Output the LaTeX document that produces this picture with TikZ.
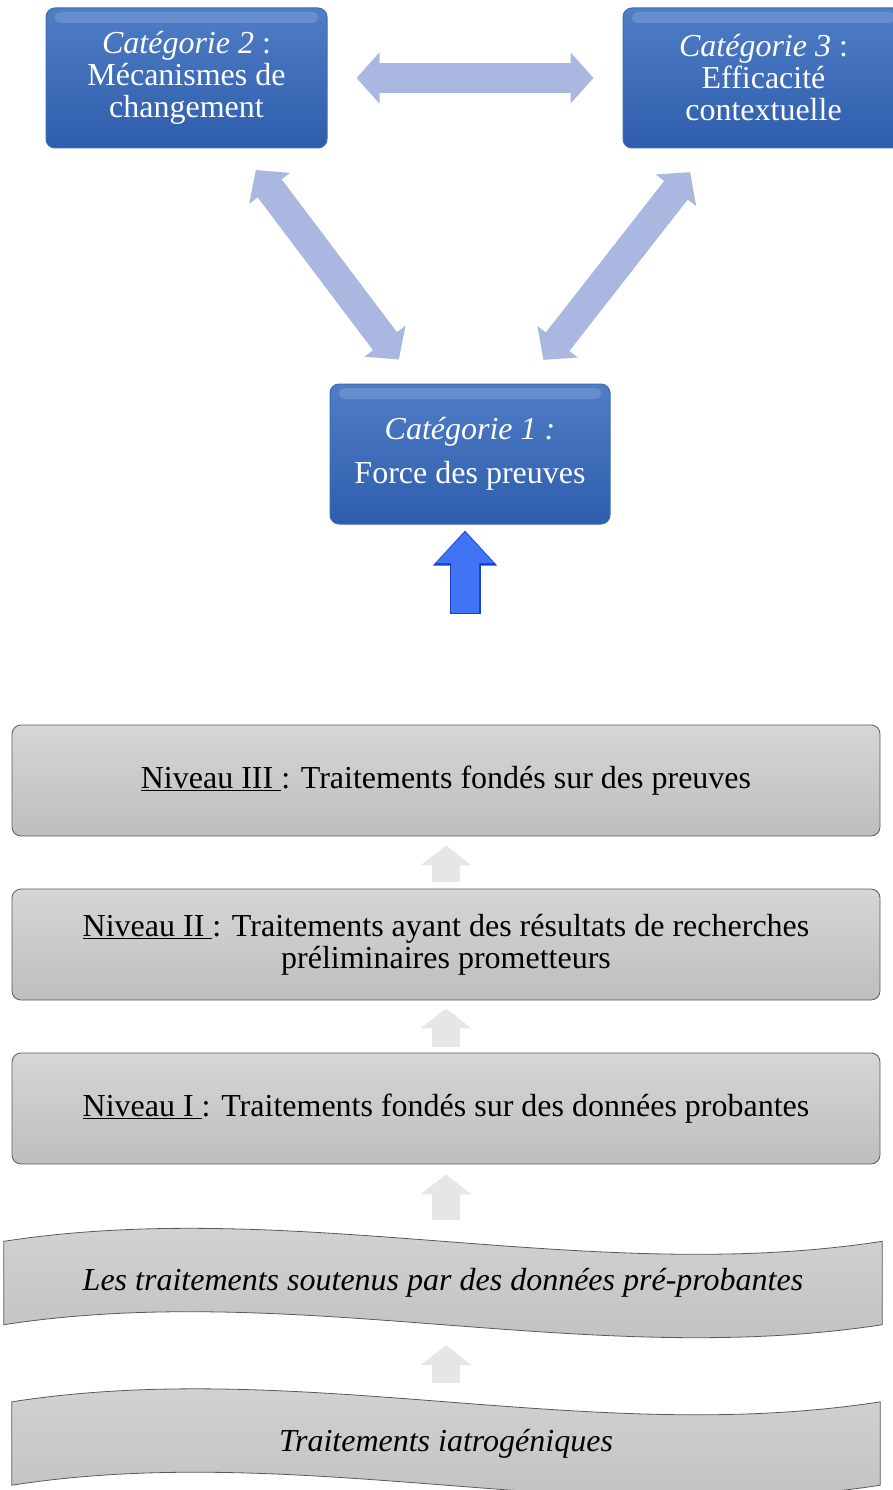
\documentclass[tikz,border=0pt]{standalone}
\usepackage{fontspec}
\setmainfont{Liberation Serif}
\usepackage{tikz}
\usetikzlibrary{arrows.meta,calc,backgrounds}
\usepackage{xcolor}

\definecolor{catTop}{HTML}{4F7DC6}
\definecolor{catBot}{HTML}{2E5DAC}
\definecolor{catEdge}{HTML}{3F6BB8}
\definecolor{linkFill}{HTML}{A9B7E1}
\definecolor{upFill}{HTML}{4173F5}
\definecolor{upEdge}{HTML}{1B3FD2}
\definecolor{levTop}{HTML}{D6D6D6}
\definecolor{levBot}{HTML}{BEBEBE}
\definecolor{levEdge}{HTML}{5A5A5A}
\definecolor{riseFill}{HTML}{E6E6E6}

\newcommand{\bigfont}{\fontsize{32}{32}\selectfont}
% Wave outline round a node: top and bottom edges are S-curves.
\newcommand{\wavepath}[1]{(#1.north west)
  .. controls ($(#1.north west)!1/3!(#1.north east)+(0,-45)$) and ($(#1.north west)!2/3!(#1.north east)+(0,45)$) .. (#1.north east)
  -- (#1.south east)
  .. controls ($(#1.south west)!2/3!(#1.south east)+(0,45)$) and ($(#1.south west)!1/3!(#1.south east)+(0,-45)$) .. (#1.south west)
  -- cycle}

\tikzset{
  catbox/.style={rounded corners=9pt,top color=catTop,bottom color=catBot,draw=catEdge,line width=1pt,
    text=white,align=center,minimum width=281pt,minimum height=140pt,font=\bigfont,
    path picture={\fill[white,opacity=.14,rounded corners=5pt]
      ($(path picture bounding box.north west)+(9pt,-4pt)$) rectangle ($(path picture bounding box.north east)+(-9pt,-15pt)$);}},
  levbox/.style={rounded corners=9pt,top color=levTop,bottom color=levBot,draw=levEdge,line width=.8pt,
    align=center,minimum width=868pt,minimum height=111pt,font=\bigfont},
  wavebox/.style={align=center,minimum height=83pt,font=\bigfont\itshape},
  wavefill/.style={top color=levTop,bottom color=levBot,draw=levEdge,line width=.8pt},
  linkarrow/.style={line width=30pt,draw=linkFill,{Triangle[width=50pt,length=23pt]}-{Triangle[width=50pt,length=23pt]}},
  upborder/.style={line width=31pt,draw=upEdge,-{Triangle[width=62pt,length=35pt]}},
  upbody/.style={line width=28pt,draw=upFill,-{Triangle[width=56pt,length=31pt]}},
  risearrow/.style={line width=28pt,draw=riseFill,-{Triangle[width=50pt,length=20pt]}}
}

\begin{document}
\begin{tikzpicture}[x=1pt,y=-1pt]
  \useasboundingbox (0,0) rectangle (893,1490);

  % The three categories.
  \node[catbox] (cat2) at (186.5,78) {\textit{Catégorie 2} :\\Mécanismes de\\changement};
  \node[catbox] (cat3) at (763.5,78) {\textit{Catégorie 3} :\\Efficacité\\contextuelle};
  \node[catbox,minimum width=280pt] (cat1) at (470,454) {\textit{Catégorie 1 :}\\[12pt]Force des preuves};

  % Links between the categories.
  \draw[linkarrow,shorten <=29pt,shorten >=29pt] (cat2) -- (cat3);
  \draw[linkarrow,shorten <=27pt,shorten >=30pt] (cat2) -- (cat1);
  \draw[linkarrow,shorten <=30pt,shorten >=30pt] (cat3) -- (cat1);

  % Blue arrow up to category 1.
  \coordinate (upfoot) at (465,614);
  \draw[upborder,shorten >=6pt] (upfoot) -- (cat1.south -| upfoot);
  \draw[upbody,shorten <=1.5pt,shorten >=7.5pt] (upfoot) -- (cat1.south -| upfoot);

  % Evidence levels.
  \node[levbox] (niv3) at (446,780.5) {\underline{Niveau III\ }: Traitements fondés sur des preuves};
  \node[levbox] (niv2) at (446,944.5) {\underline{Niveau II\ }: Traitements ayant des résultats de recherches\\préliminaires prometteurs};
  \node[levbox] (niv1) at (446,1108.5) {\underline{Niveau I\ }: Traitements fondés sur des données probantes};
  \node[wavebox,minimum width=878pt] (wpre) at (443,1283) {Les traitements soutenus par des données pré-probantes};
  \node[wavebox,minimum width=868pt] (wiat) at (446,1443.5) {Traitements iatrogéniques};

  \begin{scope}[on background layer]
    \draw[wavefill] \wavepath{wpre};
    \draw[wavefill] \wavepath{wiat};
  \end{scope}

  % Grey arrows between the levels.
  \draw[risearrow,shorten <=7pt,shorten >=9pt] (niv2) -- (niv3);
  \draw[risearrow,shorten <=6pt,shorten >=8pt] (niv1) -- (niv2);
  \draw[risearrow,shorten <=21.5pt,shorten >=10pt] (wpre.north -| niv1) -- (niv1);
  \draw[risearrow,shorten <=19pt,shorten >=20.5pt] (wiat.north -| niv1) -- (wpre.south -| niv1);
\end{tikzpicture}
\end{document}
